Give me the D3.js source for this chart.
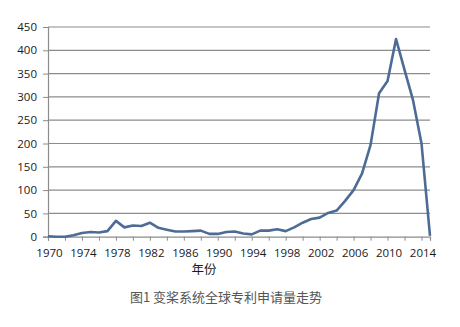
<!DOCTYPE html>
<html><head><meta charset="utf-8">
<script src="https://cdn.jsdelivr.net/npm/d3@7"></script>
<style>body{margin:0;background:#fff}svg{display:block}</style>
</head><body>
<svg id="c" width="460" height="327"></svg>
<script>
const years = d3.range(1970, 2016);
const values = [1,0,0,3,8,10,9,12,34,20,24,23,30,19,15,11,11,12,13,6,6,10,11,7,5,13,13,16,12,20,30,38,41,51,56,77,100,136,197,308,334,424,358,293,200,2];
const yTicks = [0,50,100,150,200,250,300,350,400,450];
const xLabels = d3.range(1970, 2015, 4);
const xTickYears = d3.range(1970, 2016, 2);
const xTitle = "年份";
const caption = "图1 变桨系统全球专利申请量走势";

const svg = d3.select("#c");
const x = d3.scaleLinear().domain([1970, 2015]).range([48, 430]);
const y = d3.scaleLinear().domain([0, 450]).range([236.7, 27]);

svg.append("g").selectAll("line").data(yTicks.filter(d=>d>0)).join("line")
  .attr("x1", 48).attr("x2", 430).attr("y1", d=>y(d)).attr("y2", d=>y(d))
  .attr("stroke", "#8c8c8c").attr("stroke-width", 1.2);

const ya = svg.append("g").attr("transform", "translate(48,0)")
  .call(d3.axisLeft(y).tickValues(yTicks).tickSize(5).tickPadding(6));
ya.select(".domain").attr("stroke", "#8c8c8c").attr("stroke-width", 1.2);
ya.selectAll(".tick line").attr("stroke", "#8c8c8c");
ya.selectAll("text").attr("font-family", "'Open Sans', sans-serif").attr("font-size", 11.5).attr("fill", "#1a1a1a");

const xa = svg.append("g").attr("transform", `translate(0,${y(0)})`)
  .call(d3.axisBottom(x).tickValues(xTickYears).tickSize(4).tickFormat(""));
xa.select(".domain").attr("stroke", "#8c8c8c").attr("stroke-width", 1.2);
xa.selectAll(".tick line").attr("stroke", "#8c8c8c");
svg.append("g").selectAll("text").data(xLabels).join("text")
  .attr("x", d=>x(d)+1.5).attr("y", 257).attr("text-anchor", "middle")
  .attr("font-family", "'Open Sans', sans-serif").attr("font-size", 11.5).attr("fill", "#1a1a1a")
  .text(d=>d);

const line = d3.line().x((d,i)=>x(years[i])).y(d=>y(d));
svg.append("path").datum(values).attr("d", line)
  .attr("fill", "none").attr("stroke", "#4d6c95").attr("stroke-width", 2.6)
  .attr("stroke-linejoin", "round");

svg.append("text").attr("x", 204).attr("y", 274).attr("text-anchor", "middle")
  .attr("font-family", "'Noto Sans CJK SC', sans-serif").attr("font-size", 12.5).attr("fill", "#1a1a1a")
  .text(xTitle);
svg.append("text").attr("x", 226).attr("y", 302).attr("text-anchor", "middle")
  .attr("font-family", "'Noto Sans CJK SC', sans-serif").attr("font-size", 13).attr("fill", "#555")
  .text(caption);
</script>
</body></html>
